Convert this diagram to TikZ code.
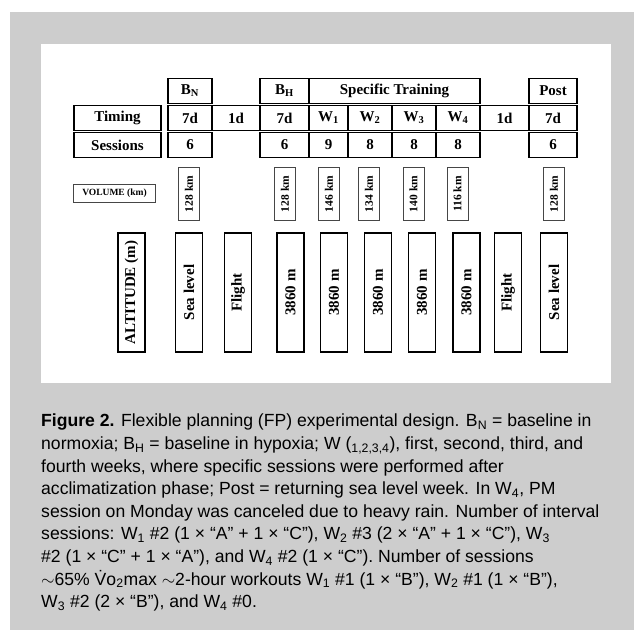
\documentclass[tikz,border=0pt]{standalone}
\usepackage{fontspec}
\setmainfont{Liberation Serif}
\newfontfamily\capfont{Liberation Sans}
\usetikzlibrary{positioning}
\definecolor{capgray}{RGB}{205,205,205}
\definecolor{volgray}{RGB}{70,70,70}

\begin{document}
\begin{tikzpicture}[x=1pt, y=-1pt,
      cell/.style={rectangle, draw, line width=1.7pt, minimum height=25pt, inner sep=0pt, font=\fontsize{15}{18}\selectfont\bfseries},
      volbox/.style={rectangle, draw=volgray, line width=0.8pt, rotate=90, minimum width=53pt, minimum height=21pt, inner sep=0pt, font=\fontsize{11.5}{13}\selectfont\bfseries},
      altbox/.style={rectangle, draw, line width=1.7pt, rotate=90, minimum width=119pt, minimum height=27pt, inner sep=0pt, font=\fontsize{15}{18}\selectfont\bfseries},
      caption/.style={anchor=north west, align=left, inner sep=0pt, font=\capfont\fontsize{17.6}{22.6}\selectfont}
    ]
      \useasboundingbox (0,0) rectangle (634,630);
      \fill[capgray] (10,12) rectangle (634,630);
      \fill[white] (41,44) rectangle (611,383);

      \node[cell, minimum width=44pt] (hBN) at (190,91) {B\textsubscript{N}};
      \node[cell, minimum width=49pt] (hBH) at (284.5,91) {B\textsubscript{H}};
      \node[cell, minimum width=171pt] (hST) at (394.5,91) {Specific Training};
      \node[cell, minimum width=48pt] (hPost) at (553,91) {Post};

      \node[cell, minimum width=87pt] (tLbl) at (117.5,118) {Timing};
      \node[cell, minimum width=44pt] (tBN) at (190,118) {7d};
      \node[cell, minimum width=48pt] (tFly1) at (236,118) {1d};
      \node[cell, minimum width=49pt] (tBH) at (284.5,118) {7d};
      \node[cell, minimum width=39pt] (tW1) at (328.5,118) {W\textsubscript{1}};
      \node[cell, minimum width=44pt] (tW2) at (370,118) {W\textsubscript{2}};
      \node[cell, minimum width=44pt] (tW3) at (414,118) {W\textsubscript{3}};
      \node[cell, minimum width=44pt] (tW4) at (458,118) {W\textsubscript{4}};
      \node[cell, minimum width=49pt] (tFly2) at (504.5,118) {1d};
      \node[cell, minimum width=48pt] (tPost) at (553,118) {7d};

      \node[cell, minimum width=87pt] (sLbl) at (117.5,145) {Sessions};
      \node[cell, minimum width=44pt] (sBN) at (190,145) {6};
      \node[cell, minimum width=49pt] (sBH) at (284.5,145) {6};
      \node[cell, minimum width=39pt] (sW1) at (328.5,145) {9};
      \node[cell, minimum width=44pt] (sW2) at (370,145) {8};
      \node[cell, minimum width=44pt] (sW3) at (414,145) {8};
      \node[cell, minimum width=44pt] (sW4) at (458,145) {8};
      \node[cell, minimum width=48pt] (sPost) at (553,145) {6};

      \node[draw=volgray, line width=0.8pt, minimum width=82pt, minimum height=18pt, inner sep=0pt, font=\fontsize{9.5}{11}\selectfont\bfseries] (vLbl) at (114.5,193.5) {VOLUME (km)};
      \node[volbox] (vBN) at (189,194) {128 km};
      \node[volbox] (vBH) at (285,194) {128 km};
      \node[volbox] (vW1) at (329,194) {146 km};
      \node[volbox] (vW2) at (369,194) {134 km};
      \node[volbox] (vW3) at (413.5,194) {140 km};
      \node[volbox] (vW4) at (457.5,194) {116 km};
      \node[volbox] (vPost) at (554,194) {128 km};

      \node[altbox] (aLbl) at (131.5,292.5) {ALTITUDE (m)};
      \node[altbox] (aBN) at (189,292.5) {Sea level};
      \node[altbox] (aFly1) at (238,292.5) {Flight};
      \node[altbox] (aBH) at (290.5,292.5) {3860 m};
      \node[altbox] (aW1) at (334,292.5) {3860 m};
      \node[altbox] (aW2) at (378,292.5) {3860 m};
      \node[altbox] (aW3) at (422,292.5) {3860 m};
      \node[altbox] (aW4) at (466.5,292.5) {3860 m};
      \node[altbox] (aFly2) at (508,292.5) {Flight};
      \node[altbox] (aPost) at (554,292.5) {Sea level};

      \node[caption] (cap) at (41,414) {\textbf{Figure 2.} Flexible planning (FP) experimental design. B\textsubscript{N} = baseline in\\
        normoxia; B\textsubscript{H} = baseline in hypoxia; W (\textsubscript{1,2,3,4}), first, second, third, and\\
        fourth weeks, where specific sessions were performed after\\
        acclimatization phase; Post = returning sea level week. In W\textsubscript{4}, PM\\
        session on Monday was canceled due to heavy rain. Number of interval\\
        sessions: W\textsubscript{1} \#2 (1 × “A” + 1 × “C”), W\textsubscript{2} \#3 (2 × “A” + 1 × “C”), W\textsubscript{3}\\
        \#2 (1 × “C” + 1 × “A”), and W\textsubscript{4} \#2 (1 × “C”). Number of sessions\\
        $\sim$65\% \.{V}o\textsubscript{2}max $\sim$2-hour workouts W\textsubscript{1} \#1 (1 × “B”), W\textsubscript{2} \#1 (1 × “B”),\\
        W\textsubscript{3} \#2 (2 × “B”), and W\textsubscript{4} \#0.};
    \end{tikzpicture}
\end{document}
